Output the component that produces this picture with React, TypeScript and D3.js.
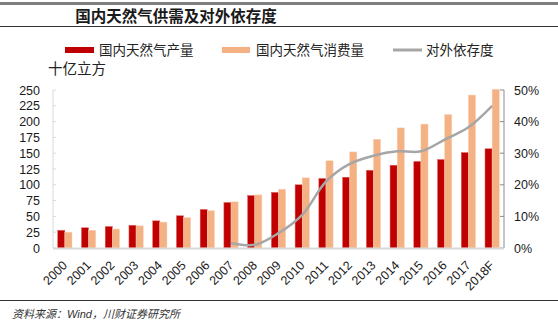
import React from "react";
import * as d3 from "d3";

const years = ["2000","2001","2002","2003","2004","2005","2006","2007","2008","2009","2010","2011","2012","2013","2014","2015","2016","2017","2018F"];
const production = [28, 32, 34, 36, 43, 51, 61, 72, 83, 88, 100, 110, 112, 123, 131, 137, 140, 151, 157];
const consumption = [25, 28, 30, 35, 41, 48, 59, 73, 84, 93, 111, 138, 152, 172, 190, 196, 211, 242, 251];
const depYears = ["2007","2008","2009","2010","2011","2012","2013","2014","2015","2016","2017","2018F"];
const dependency = [1.6, 1.0, 4.7, 10.5, 21, 26.6, 29.2, 30.6, 30.6, 34.3, 38.2, 45];
const leftTicks = [0, 25, 50, 75, 100, 125, 150, 175, 200, 225, 250];
const rightTicks = [0, 10, 20, 30, 40, 50];

const W = 558, H = 328;
const X0 = 53, X1 = 504, Y0 = 248, Y1 = 90;
const CJK = "'Noto Sans CJK SC', sans-serif";
const NUM = "'Liberation Sans', Arial, sans-serif";

export default function App() {
  const x = d3.scaleBand<string>().domain(years).range([X0, X1]).paddingInner(0.4).paddingOuter(0.2);
  const xs = d3.scaleBand<string>().domain(["p", "c"]).range([0, x.bandwidth()]).padding(0);
  const xc = d3.scaleBand<string>().domain(years).range([X0, X1]);
  const yl = d3.scaleLinear().domain([0, 250]).range([Y0, Y1]);
  const yr = d3.scaleLinear().domain([0, 50]).range([Y0, Y1]);
  const line = d3.line<number>()
    .x((_, i) => (xc(depYears[i]) as number) + xc.bandwidth() / 2)
    .y((d) => yr(d))
    .curve(d3.curveCatmullRom.alpha(0.5));

  return (
    <svg width={W} height={H} style={{ position: "absolute", left: 0, top: 0, background: "#fff" }}>
      <line x1={0} x2={W} y1={3.5} y2={3.5} stroke="#7f7f7f" strokeWidth={3} />
      <text x={176} y={22} textAnchor="middle" fontFamily={CJK} fontWeight="bold" fontSize={15.5} fill="#1a1a1a">国内天然气供需及对外依存度</text>
      <line x1={0} x2={W} y1={26.5} y2={26.5} stroke="#333" strokeWidth={1} />

      {/* legend */}
      <rect x={65} y={47} width={29} height={6} fill="#C00000" />
      <text x={99} y={55} fontFamily={CJK} fontSize={13.5} fill="#222">国内天然气产量</text>
      <rect x={222} y={47} width={28} height={6} fill="#F4B183" />
      <text x={256} y={55} fontFamily={CJK} fontSize={13.5} fill="#222">国内天然气消费量</text>
      <line x1={393} x2={422} y1={50} y2={50} stroke="#a6a6a6" strokeWidth={3} />
      <text x={426} y={55} fontFamily={CJK} fontSize={13.5} fill="#222">对外依存度</text>

      <text x={48} y={74} fontFamily={CJK} fontSize={14.5} fill="#222">十亿立方</text>

      {/* left axis */}
      <line x1={X0} x2={X0} y1={Y1} y2={Y0} stroke="#d9d9d9" strokeWidth={1} />
      {leftTicks.map((t) => (
        <g key={t}>
          <line x1={X0} x2={X0 + 3} y1={yl(t)} y2={yl(t)} stroke="#d9d9d9" />
          <text x={40} y={yl(t)} dy="0.36em" textAnchor="end" fontFamily={NUM} fontSize={12.5} fill="#1a1a1a">{t}</text>
        </g>
      ))}

      {/* right axis */}
      <line x1={X1} x2={X1} y1={Y1} y2={Y0} stroke="#8c8c8c" strokeWidth={1} />
      {rightTicks.map((t) => (
        <g key={t}>
          <line x1={X1 - 4} x2={X1} y1={yr(t)} y2={yr(t)} stroke="#8c8c8c" />
          <text x={514} y={yr(t)} dy="0.36em" fontFamily={NUM} fontSize={12.5} fill="#1a1a1a">{t}%</text>
        </g>
      ))}

      {/* bars */}
      {years.map((yv, i) => (
        <g key={yv}>
          <rect x={(x(yv) as number) + (xs("p") as number)} y={yl(production[i])} width={xs.bandwidth()} height={Y0 - yl(production[i])} fill="#C00000" stroke="#e06060" strokeWidth={0.5} />
          <rect x={(x(yv) as number) + (xs("c") as number)} y={yl(consumption[i])} width={xs.bandwidth()} height={Y0 - yl(consumption[i])} fill="#F4B183" stroke="#f9d0b0" strokeWidth={0.5} />
        </g>
      ))}

      {/* bottom axis */}
      <line x1={X0} x2={X1} y1={Y0 + 0.5} y2={Y0 + 0.5} stroke="#d9d9d9" strokeWidth={2} />

      <path d={line(dependency) || ""} fill="none" stroke="#a6a6a6" strokeWidth={2.5} />

      {years.map((yv) => {
        const cx = (xc(yv) as number) + xc.bandwidth() / 2;
        return (
          <text key={yv} transform={`translate(${cx},${263}) rotate(-45)`} textAnchor="end" dy="0.35em" fontFamily={NUM} fontSize={12.5} fill="#1a1a1a">{yv}</text>
        );
      })}

      <line x1={0} x2={W} y1={300.5} y2={300.5} stroke="#333" strokeWidth={1.2} />
      <text x={12} y={318} fontFamily={CJK} fontStyle="italic" fontSize={11} fill="#333">资料来源：<tspan fontFamily={NUM}>Wind</tspan>，川财证券研究所</text>
    </svg>
  );
}
